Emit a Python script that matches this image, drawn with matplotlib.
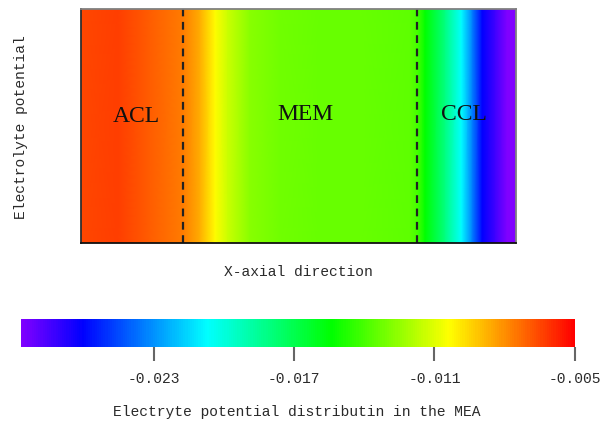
import numpy as np
import matplotlib.pyplot as plt
from matplotlib.colors import LinearSegmentedColormap, Normalize
from matplotlib.cm import ScalarMappable

# electrolyte potential across the MEA (x normalised 0..1 from anode to cathode side)
x_pos = [0.0, 0.086, 0.159, 0.235, 0.274, 0.309, 0.338, 0.389, 0.458, 0.550,
         0.642, 0.756, 0.775, 0.791, 0.837, 0.874, 0.899, 0.922, 0.952, 0.979, 1.0]
potential = [-0.00654, -0.00630, -0.00703, -0.00767, -0.00869, -0.01035, -0.01146,
             -0.01271, -0.01316, -0.01338, -0.01338, -0.01352, -0.01411, -0.01539,
             -0.01804, -0.02071, -0.02338, -0.02606, -0.02736, -0.02866, -0.02866]

layer_bounds = [0.235, 0.773]
layer_names = ["ACL", "MEM", "CCL"]
layer_text_x = [0.129, 0.515, 0.881]
layer_text_y = [0.54, 0.55, 0.55]

vmin, vmax = -0.02866, -0.005
cbar_ticks = [-0.023, -0.017, -0.011, -0.005]
cbar_ticklabels = ["-0.023", "-0.017", "-0.011", "-0.005"]

cmap = LinearSegmentedColormap.from_list(
    "mea_rainbow",
    [(0.0, "#8000ff"), (0.110, "#0000ff"), (0.336, "#00ffff"),
     (0.561, "#00ff00"), (0.774, "#ffff00"), (1.0, "#ff0000")])
norm = Normalize(vmin=vmin, vmax=vmax)

mono = "Liberation Mono"
txt_col = "#2a2a2a"

fig = plt.figure(figsize=(6.01, 4.26), dpi=100)
ax = fig.add_axes([0.134, 0.4296, 0.725, 0.5494])

X, Y = np.meshgrid(x_pos, [0, 1])
C = np.vstack([potential, potential])
ax.pcolormesh(X, Y, C, cmap=cmap, norm=norm, shading="gouraud")
ax.set_xlim(0, 1)
ax.set_ylim(0, 1)
ax.set_xticks([])
ax.set_yticks([])

for xb in layer_bounds:
    ax.axvline(xb, color="#222222", lw=1.6, ls=(0, (3.5, 2.5)))

for name, xt, yt in zip(layer_names, layer_text_x, layer_text_y):
    ax.text(xt, yt, name, ha="center", va="center", fontsize=17,
            family="Liberation Serif", color="#111111")

ax.spines["top"].set_color("#808080")
ax.spines["right"].set_color("#808080")
ax.spines["left"].set_color("#303030")
ax.spines["bottom"].set_color("#101010")
for s in ax.spines.values():
    s.set_linewidth(1.3)

fig.text(0.4958, 0.3615, "X-axial direction", ha="center", va="center",
         family=mono, fontsize=10.5, color=txt_col)
fig.text(0.035, 0.702, "Electrolyte potential", ha="center", va="center",
         rotation=90, family=mono, fontsize=10.5, color=txt_col)

# colour bar
cax = fig.add_axes([0.0349, 0.1854, 0.9218, 0.0657])
cb = fig.colorbar(ScalarMappable(norm=norm, cmap=cmap), cax=cax,
                  orientation="horizontal")
cb.outline.set_visible(False)
cb.set_ticks(cbar_ticks)
cb.set_ticklabels(cbar_ticklabels)
cax.tick_params(axis="x", length=10, width=1.5, color="#666666", pad=8,
                labelsize=10.5, labelcolor=txt_col)
for lab in cax.get_xticklabels():
    lab.set_family(mono)

fig.text(0.4942, 0.033, "Electryte potential distributin in the MEA",
         ha="center", va="center", family=mono, fontsize=10.5, color=txt_col)

fig.savefig("out.png", dpi=100)
